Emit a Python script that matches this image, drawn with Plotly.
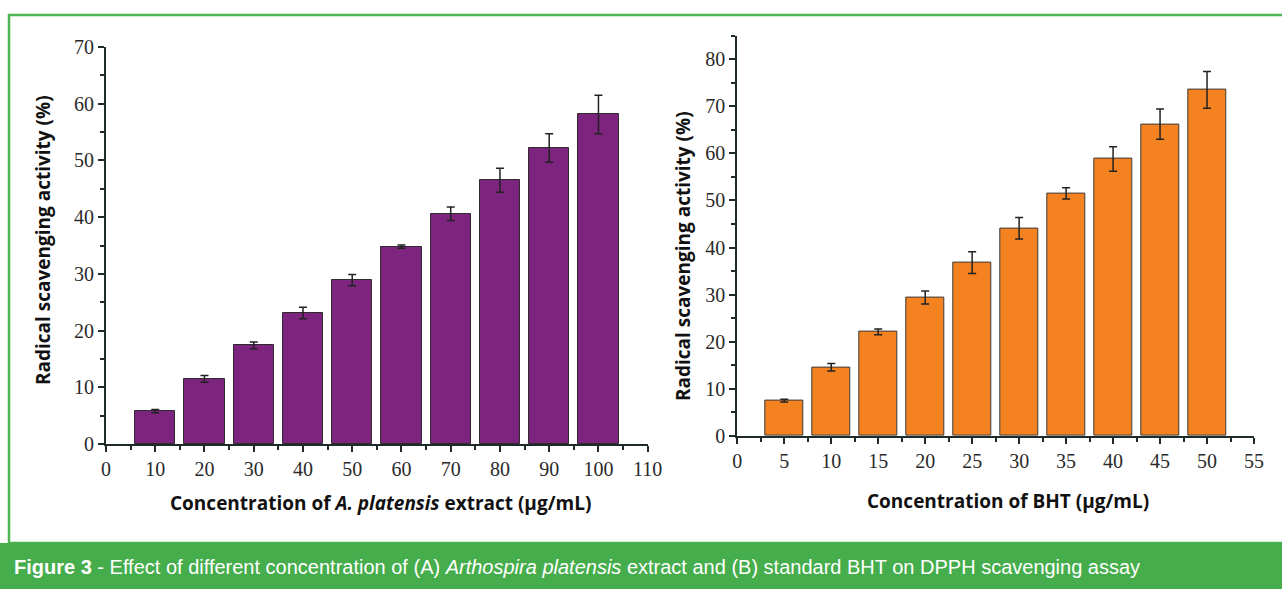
import plotly.graph_objects as go

# Panel A: Arthospira platensis extract
conc_a = [10, 20, 30, 40, 50, 60, 70, 80, 90, 100]
scav_a = [5.8, 11.5, 17.4, 23.1, 28.9, 34.8, 40.6, 46.5, 52.2, 58.1]
err_a = [0.3, 0.6, 0.6, 1.0, 1.0, 0.3, 1.2, 2.1, 2.5, 3.4]

# Panel B: standard BHT
conc_b = [5, 10, 15, 20, 25, 30, 35, 40, 45, 50]
scav_b = [7.5, 14.6, 22.1, 29.4, 36.8, 44.1, 51.5, 58.8, 66.2, 73.5]
err_b = [0.3, 0.8, 0.6, 1.4, 2.3, 2.3, 1.2, 2.6, 3.2, 3.9]

ticks_xa = list(range(0, 111, 10))
ticks_ya = list(range(0, 71, 10))
ticks_xb = list(range(0, 56, 5))
ticks_yb = list(range(0, 81, 10))

W, H = 1282, 589
PURPLE = "#7D257E"
ORANGE = "#F58220"
GREEN = "#45AD4B"
AXIS = "#1f2b2b"


def px(x):
    return x / W


def py(y):
    return 1 - y / H


fig = go.Figure()

fig.add_trace(go.Bar(
    x=conc_a, y=scav_a, width=8.2, xaxis="x", yaxis="y",
    marker=dict(color=PURPLE, line=dict(color="#2e2a2e", width=1)),
    error_y=dict(type="data", array=err_a, color="#222222", thickness=1.5, width=4),
    showlegend=False,
))
fig.add_trace(go.Bar(
    x=conc_b, y=scav_b, width=4.0, xaxis="x2", yaxis="y2",
    marker=dict(color=ORANGE, line=dict(color="#3a3a3a", width=1)),
    error_y=dict(type="data", array=err_b, color="#222222", thickness=1.5, width=4),
    showlegend=False,
))

tick_font = dict(family="Liberation Serif, DejaVu Serif, serif", size=20, color="#2a2a2a")


def axis_style(tickvals, rng, domain, anchor, minor_dtick):
    return dict(
        range=rng, domain=domain, anchor=anchor, automargin=False,
        tickmode="array", tickvals=tickvals, ticktext=[str(v) for v in tickvals],
        showline=True, linecolor=AXIS, linewidth=2,
        ticks="outside", ticklen=6, tickwidth=2, tickcolor=AXIS,
        minor=dict(ticks="outside", ticklen=4, tickwidth=2, tickcolor=AXIS,
                   dtick=minor_dtick, tick0=0, showgrid=False),
        showgrid=False, zeroline=False, mirror=False,
        tickfont=tick_font, fixedrange=True,
    )


fig.update_layout(
    template="none",
    width=W, height=H, autosize=False,
    margin=dict(l=0, r=0, t=0, b=0, pad=0, autoexpand=False),
    paper_bgcolor="white", plot_bgcolor="white",
    bargap=0,
    xaxis=axis_style(ticks_xa, [0, 110], [px(106), px(647.7)], "y", 5),
    yaxis=axis_style(ticks_ya, [0, 70], [py(444), py(47)], "x", 5),
    xaxis2=axis_style(ticks_xb, [0, 55], [px(737.3), px(1254)], "y2", 2.5),
    yaxis2=axis_style(ticks_yb, [0, 85], [py(436), py(35.6)], "x2", 5),
)

title_font = dict(family="Open Sans, Lato, sans-serif", size=19, color="#111111")

annotations = [
    dict(text="<b>Concentration of <i>A. platensis</i> extract (μg/mL)</b>",
         x=px(380), y=py(503), xref="paper", yref="paper",
         showarrow=False, font=title_font, xanchor="center", yanchor="middle"),
    dict(text="<b>Concentration of BHT (μg/mL)</b>",
         x=px(1008), y=py(501), xref="paper", yref="paper",
         showarrow=False, font=title_font, xanchor="center", yanchor="middle"),
    dict(text="<b>Radical scavenging activity (%)</b>",
         x=px(43), y=py(240), xref="paper", yref="paper", textangle=-90,
         showarrow=False, font=title_font, xanchor="center", yanchor="middle"),
    dict(text="<b>Radical scavenging activity (%)</b>",
         x=px(683), y=py(256), xref="paper", yref="paper", textangle=-90,
         showarrow=False, font=title_font, xanchor="center", yanchor="middle"),
    dict(text="<b>Figure 3</b> - Effect of different concentration of (A) <i>Arthospira platensis</i> "
              "extract and (B) standard BHT on DPPH scavenging assay",
         x=px(12), y=py(567), xref="paper", yref="paper",
         showarrow=False, xanchor="left", yanchor="middle",
         font=dict(family="Liberation Sans Narrow, Arial Narrow, sans-serif", size=20, color="white")),
]
fig.update_layout(annotations=annotations)

shapes = [
    # green frame around the figure
    dict(type="rect", xref="paper", yref="paper",
         x0=px(9), x1=px(1290), y0=py(543), y1=py(15),
         line=dict(color="#4DB552", width=2.5), fillcolor="rgba(0,0,0,0)", layer="below"),
    # caption band
    dict(type="rect", xref="paper", yref="paper",
         x0=-0.02, x1=1.02, y0=-0.05, y1=py(543),
         line=dict(width=0), fillcolor=GREEN, layer="below"),
]
fig.update_layout(shapes=shapes)

fig.write_html("out.html", config={"displayModeBar": False})
